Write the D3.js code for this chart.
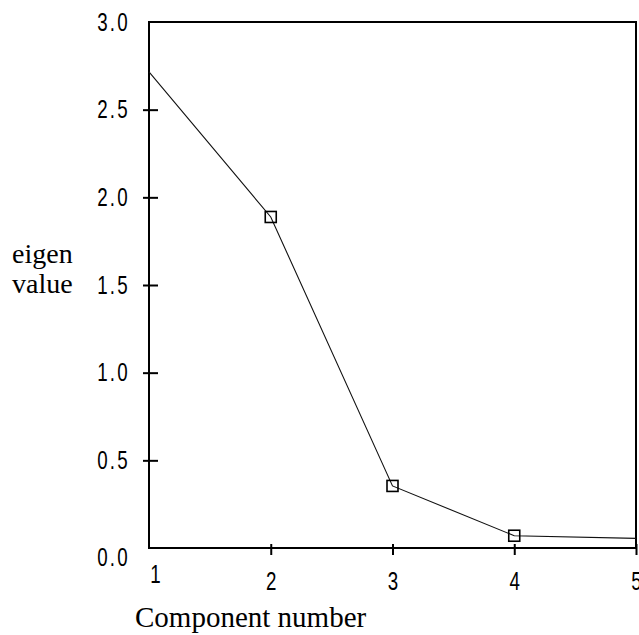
<html>
<head>
<meta charset="utf-8">
<script src="https://d3js.org/d3.v7.min.js"></script>
<style>
  body { margin: 0; background: #fff; }
  .tick text {
    font-family: "Liberation Sans", Arial, sans-serif;
    font-size: 25px;
    fill: #000;
  }
  .title {
    font-family: "Liberation Serif", "Times New Roman", serif;
    fill: #000;
  }
</style>
</head>
<body>
<script>
// data
var components = [1, 2, 3, 4, 5];
var eigenvalues = [2.715, 1.888, 0.354, 0.07, 0.055];
var yTicks = [0, 0.5, 1, 1.5, 2, 2.5, 3];
var yTitle = ["eigen", "value"];
var xTitle = "Component number";

var width = 639, height = 635;
// plot box (note: "top" is taken by window.top)
var plotLeft = 149, plotRight = 636, plotTop = 22, plotBottom = 548;

var svg = d3.select("body").append("svg")
    .attr("width", width)
    .attr("height", height);

var x = d3.scaleLinear().domain([1, 5]).range([plotLeft, plotRight]);
var y = d3.scaleLinear().domain([0, 3]).range([plotBottom, plotTop]);

// frame round the plot
svg.append("rect")
    .attr("x", x(1)).attr("y", y(3))
    .attr("width", x(5) - x(1)).attr("height", y(0) - y(3))
    .attr("fill", "none")
    .attr("stroke", "#000")
    .attr("stroke-width", 2);

// y axis
var yAxis = svg.append("g")
    .attr("transform", "translate(" + plotLeft + ",0)")
    .call(d3.axisLeft(y).tickValues(yTicks).tickFormat(d3.format(".1f")).tickSizeOuter(0));
yAxis.select(".domain").remove();
yAxis.selectAll(".tick line")
    .attr("x1", 9).attr("x2", -6)
    .attr("stroke", "#000").attr("stroke-width", 2)
    .style("display", function(d) { return (d == 0 || d == 3) ? "none" : null; });
yAxis.selectAll(".tick text")
    .attr("transform", "scale(0.75,1)")
    .attr("x", -19 / 0.75)
    .attr("dy", function(d) { return d == 0 ? "0.7em" : "0.33em"; })
    .style("letter-spacing", "3px");

// x axis
var xAxis = svg.append("g")
    .attr("transform", "translate(0," + plotBottom + ")")
    .call(d3.axisBottom(x).tickValues(components).tickFormat(d3.format("d")).tickSizeOuter(0));
xAxis.select(".domain").remove();
xAxis.selectAll(".tick line")
    .attr("y1", -4).attr("y2", 7)
    .attr("stroke", "#000").attr("stroke-width", 2)
    .style("display", function(d) { return d == 1 ? "none" : null; });
xAxis.selectAll(".tick text")
    .attr("transform", function(d) { return d == 1 ? "translate(6,0) scale(0.75,1)" : "scale(0.75,1)"; })
    .attr("y", function(d) { return d == 1 ? 35 : 42; })
    .attr("dy", "0");

// the eigenvalue line
var line = d3.line()
    .x(function(d, i) { return x(components[i]); })
    .y(function(d) { return y(d); });

svg.append("path")
    .datum(eigenvalues)
    .attr("d", line)
    .attr("fill", "none")
    .attr("stroke", "#111")
    .attr("stroke-width", 1.1);

// open squares on the inner points
var pts = components.map(function(c, i) { return {c: c, v: eigenvalues[i]}; })
    .filter(function(d, i) { return i > 0 && i < components.length - 1; });
var s = 11;
svg.selectAll("rect.marker")
    .data(pts)
    .enter().append("rect")
    .attr("class", "marker")
    .attr("x", function(d) { return x(d.c) - s / 2; })
    .attr("y", function(d) { return y(d.v) - s / 2; })
    .attr("width", s).attr("height", s)
    .attr("fill", "none")
    .attr("stroke", "#000")
    .attr("stroke-width", 1.6);

// titles
svg.append("text")
    .attr("class", "title")
    .attr("x", 12).attr("y", 263)
    .style("font-size", "28px")
    .selectAll("tspan")
    .data(yTitle)
    .enter().append("tspan")
    .attr("x", 12)
    .attr("dy", function(d, i) { return i == 0 ? 0 : 30; })
    .text(function(d) { return d; });

svg.append("text")
    .attr("class", "title")
    .attr("x", 135).attr("y", 627)
    .style("font-size", "29px")
    .text(xTitle);
</script>
</body>
</html>
